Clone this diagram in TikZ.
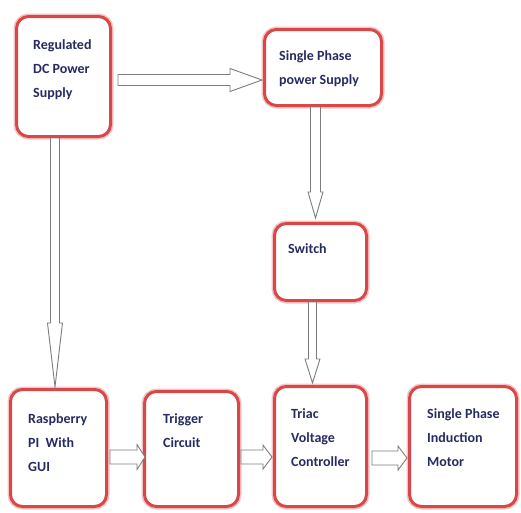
\documentclass[tikz,border=0pt]{standalone}
\usepackage{fontspec}
\setmainfont{Carlito}
\usetikzlibrary{calc}
\definecolor{boxred}{RGB}{216,72,72}
\definecolor{glow}{RGB}{244,196,196}
\definecolor{navy}{RGB}{38,44,96}
\definecolor{arrgray}{RGB}{125,125,125}
\tikzset{
  blockbox/.style={draw=boxred, line width=3pt, rounded corners=12pt, fill=white,
    preaction={draw=glow, line width=6pt}, inner sep=0pt},
  txt/.style={font=\fontsize{14}{24}\selectfont\bfseries, text=navy, align=left, inner sep=0pt, anchor=north west},
  blk/.style={draw=arrgray, line width=0.9pt, fill=white, line join=miter}
}
\newcommand\blkH[5]{%
  \draw[blk] let \p1=#1, \p2=#2 in
    (\x1,\y1-#3) -- (\x2-#5,\y1-#3) -- (\x2-#5,\y1-#4) -- (\x2,\y1) --
    (\x2-#5,\y1+#4) -- (\x2-#5,\y1+#3) -- (\x1,\y1+#3) -- cycle;}
\newcommand\blkV[5]{%
  \draw[blk] let \p1=#1, \p2=#2 in
    (\x1-#3,\y1) -- (\x1-#3,\y2+#5) -- (\x1-#4,\y2+#5) -- (\x1,\y2) --
    (\x1+#4,\y2+#5) -- (\x1+#3,\y2+#5) -- (\x1+#3,\y1) -- cycle;}
\begin{document}
\begin{tikzpicture}[x=1pt,y=-1pt]
\useasboundingbox[fill=white] (0,0) rectangle (521,512);
% boxes
\node[blockbox, minimum width=94pt, minimum height=120pt] (b1) at (63.5,76.5) {};
\node[blockbox, minimum width=117pt, minimum height=76pt] (b2) at (323,67.5) {};
\node[blockbox, minimum width=92pt, minimum height=77pt] (sw) at (320.5,262) {};
\node[blockbox, minimum width=96pt, minimum height=117pt] (rp) at (58.5,448) {};
\node[blockbox, minimum width=94pt, minimum height=115pt] (tr) at (191.5,449) {};
\node[blockbox, minimum width=92pt, minimum height=120pt] (tc) at (320.5,446.5) {};
\node[blockbox, minimum width=107pt, minimum height=120pt] (mo) at (463,446.5) {};
% texts
\node[txt] (t1) at (33,39) {Regulated\\DC Power\\Supply};
\node[txt] (t2) at (279,50) {Single Phase\\power Supply};
\node[txt] (t3) at (288,243) {Switch};
\node[txt] (t4) at (28,413) {Raspberry\\PI\ \ With\\GUI};
\node[txt] (t5) at (163,413) {Trigger\\Circuit};
\node[txt] (t6) at (291,408) {Triac\\Voltage\\Controller};
\node[txt] (t7) at (427,408) {Single Phase\\Induction\\Motor};
% arrows
\blkH{([xshift=6pt,yshift=-3.5pt]b1.east)}{([xshift=-1pt]b2.west)}{5.5}{11.5}{32}
\blkV{([xshift=-8.5pt]b1.south)}{([yshift=1pt]rp.north)}{4.5}{7.5}{64}
\blkV{([xshift=-7.5pt]b2.south)}{([yshift=4pt]sw.north)}{5}{7.5}{26}
\blkV{([xshift=-8pt]sw.south)}{([yshift=2pt]tc.north)}{4}{7.5}{24}
\blkH{([xshift=2pt,yshift=-9pt]rp.east)}{([xshift=2pt]tr.west)}{7}{12.5}{8}
\blkH{([xshift=1pt,yshift=-8pt]tr.east)}{([xshift=-1pt]tc.west)}{7}{12}{9}
\blkH{([xshift=4pt,yshift=-11.5pt]tc.east)}{([xshift=-1pt]mo.west)}{7}{12}{9}
\end{tikzpicture}
\end{document}
